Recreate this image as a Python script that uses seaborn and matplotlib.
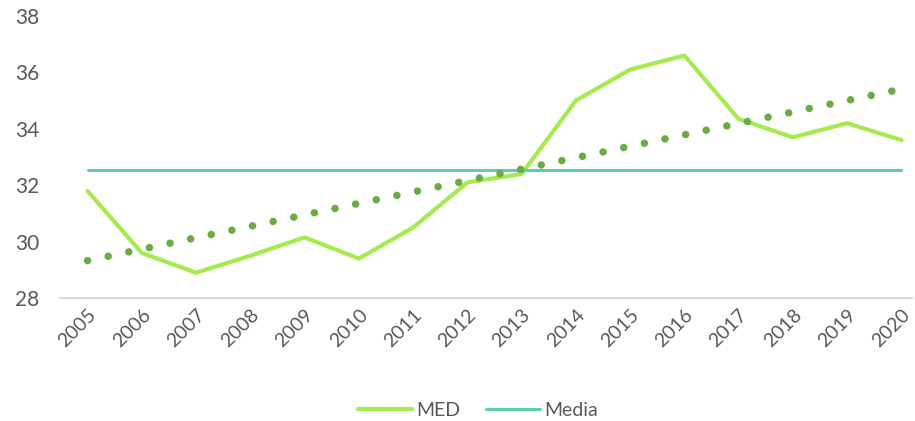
import numpy as np
import pandas as pd
import matplotlib
matplotlib.use("Agg")
import matplotlib.pyplot as plt
import seaborn as sns

years = [2005, 2006, 2007, 2008, 2009, 2010, 2011, 2012,
         2013, 2014, 2015, 2016, 2017, 2018, 2019, 2020]
med = [31.8, 29.6, 28.9, 29.5, 30.15, 29.4, 30.5, 32.1,
       32.4, 35.0, 36.1, 36.6, 34.35, 33.7, 34.2, 33.6]
media_value = 32.54
y_ticks = [28, 30, 32, 34, 36, 38]

df = pd.DataFrame({"anno": years, "MED": med})
df["Media"] = media_value
df["pos"] = np.arange(len(years))

# linea di tendenza lineare (come in Excel)
coef = np.polyfit(df["pos"], df["MED"], 1)
df["trend"] = np.polyval(coef, df["pos"])

sns.set_style("white")
plt.rcParams["font.family"] = ["Lato", "DejaVu Sans"]

fig, ax = plt.subplots(figsize=(9.15, 4.21), dpi=100)
fig.subplots_adjust(left=0.066, right=0.997, top=0.962, bottom=0.292)

sns.lineplot(data=df, x="pos", y="MED", ax=ax, color="#A5EB4D",
             linewidth=3.0, label="MED", solid_capstyle="round")
sns.lineplot(data=df, x="pos", y="Media", ax=ax, color="#5DCEAF",
             linewidth=2.2, label="Media", solid_capstyle="round")
sns.lineplot(data=df, x="pos", y="trend", ax=ax, color="#6AAB45",
             linewidth=5.4, linestyle=(0, (0.01, 2.8)),
             dash_capstyle="round", label="_nolegend_")

ax.set_xlim(-0.5, len(years) - 1 + 0.2)
ax.set_ylim(28, 38)
ax.set_yticks(y_ticks)
ax.set_xticks(df["pos"])
ax.set_xticklabels(years, rotation=45, ha="right", rotation_mode="anchor")
ax.tick_params(axis="both", colors="#595959", length=0)
ax.tick_params(axis="x", pad=6, labelsize=14)
ax.tick_params(axis="y", pad=15, labelsize=15)
ax.set_xlabel("")
ax.set_ylabel("")

for side in ["top", "right", "left"]:
    ax.spines[side].set_visible(False)
ax.spines["bottom"].set_color("#D9D9D9")
ax.spines["bottom"].set_linewidth(1.5)

leg = ax.legend(loc="lower center", bbox_to_anchor=(0.49, -0.49), ncol=2,
                frameon=False, fontsize=14, handlelength=2.8,
                handletextpad=0.2, columnspacing=1.3)
for t in leg.get_texts():
    t.set_color("#595959")

fig.savefig("out.png", dpi=100)
